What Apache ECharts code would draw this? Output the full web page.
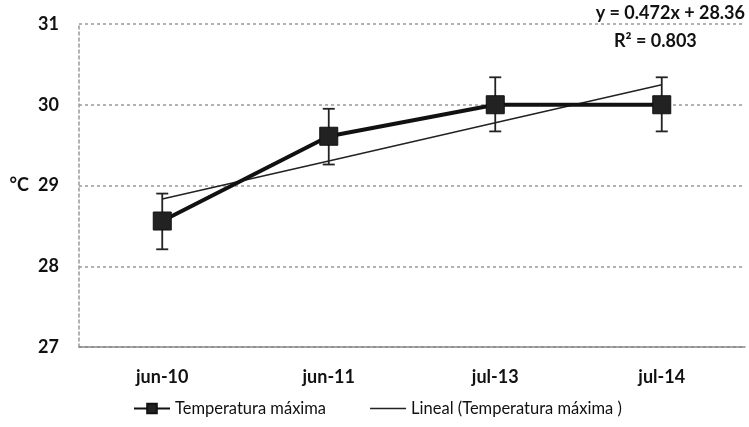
<!DOCTYPE html>
<html><head><meta charset="utf-8">
<script src="https://cdn.jsdelivr.net/npm/echarts@6/dist/echarts.min.js"></script>
<style>html,body{margin:0;padding:0;background:#fff}#c{width:749px;height:427px}</style>
</head><body><div id="c"></div>
<script>
var categories = ['jun-10', 'jun-11', 'jul-13', 'jul-14'];
var tempMax = [28.56, 29.61, 30.0, 30.0];
var errLow = [28.21, 29.26, 29.67, 29.67];
var errHigh = [28.90, 29.95, 30.34, 30.34];
var trend = [28.832, 29.304, 29.776, 30.248];
var yTicks = [27, 28, 29, 30, 31];
var eqText = ['y = 0.472x + 28.36', 'R² = 0.803'];

var font = 'Lato, "Open Sans", sans-serif';
var chart = echarts.init(document.getElementById('c'), null, {renderer: 'canvas'});
var errData = categories.map(function (c, i) { return [i, errLow[i], errHigh[i]]; });
chart.setOption({
  animation: false,
  backgroundColor: '#fff',
  grid: {left: 79, right: 4, top: 24, bottom: 80},
  xAxis: {
    type: 'category', data: categories, boundaryGap: true,
    axisLine: {lineStyle: {color: '#888', width: 1.5}},
    axisTick: {show: false},
    axisLabel: {color: '#111', fontFamily: font, fontWeight: 'bold', fontSize: 18, margin: 21}
  },
  yAxis: {
    type: 'value', min: yTicks[0], max: yTicks[yTicks.length - 1], interval: 1,
    name: '°C', nameLocation: 'middle', nameGap: 50, nameRotate: 0,
    nameTextStyle: {color: '#111', fontFamily: font, fontWeight: 'bold', fontSize: 18},
    axisLine: {show: true, lineStyle: {color: '#999', type: [3, 3], width: 1.5}},
    axisTick: {show: false},
    splitLine: {lineStyle: {color: '#999', type: [3, 3], width: 1.5}},
    axisLabel: {color: '#111', fontFamily: font, fontWeight: 'bold', fontSize: 18, margin: 20,
      formatter: function (v) { return yTicks.indexOf(v) >= 0 ? String(v) : ''; }}
  },
  legend: {
    left: 128, bottom: 5, itemGap: 44, itemWidth: 36, itemHeight: 12,
    textStyle: {color: '#111', fontFamily: font, fontSize: 16.5},
    data: [
      {name: 'Temperatura máxima', itemStyle: {color: '#222'}},
      {name: 'Lineal (Temperatura máxima )', icon: 'path://M0,0 L40,0 L40,1.5 L0,1.5 Z', itemStyle: {color: '#222'}}
    ]
  },
  graphic: [
    {type: 'text', right: 4, top: 4, style: {text: eqText[0], fill: '#111', font: 'bold 18px ' + font, textAlign: 'right'}},
    {type: 'text', left: 614, top: 32, style: {text: eqText[1], fill: '#111', font: 'bold 18px ' + font}}
  ],
  series: [
    {
      name: 'Lineal (Temperatura máxima )', type: 'line', data: trend,
      symbol: 'none', lineStyle: {color: '#222', width: 1.5}, z: 2
    },
    {
      name: 'errbar', type: 'custom', data: errData, z: 3,
      renderItem: function (params, api) {
        var lo = api.coord([api.value(0), api.value(1)]);
        var hi = api.coord([api.value(0), api.value(2)]);
        var hw = 6;
        var st = {stroke: '#222', lineWidth: 1.8};
        return {type: 'group', children: [
          {type: 'line', shape: {x1: hi[0], y1: hi[1], x2: lo[0], y2: lo[1]}, style: st},
          {type: 'line', shape: {x1: hi[0] - hw, y1: hi[1], x2: hi[0] + hw, y2: hi[1]}, style: st},
          {type: 'line', shape: {x1: lo[0] - hw, y1: lo[1], x2: lo[0] + hw, y2: lo[1]}, style: st}
        ]};
      }
    },
    {
      name: 'Temperatura máxima', type: 'line', data: tempMax, z: 4,
      symbol: 'rect', symbolSize: 18,
      lineStyle: {color: '#111', width: 4},
      itemStyle: {color: '#222', borderColor: '#111', borderWidth: 1}
    }
  ]
});
</script>
</body></html>
